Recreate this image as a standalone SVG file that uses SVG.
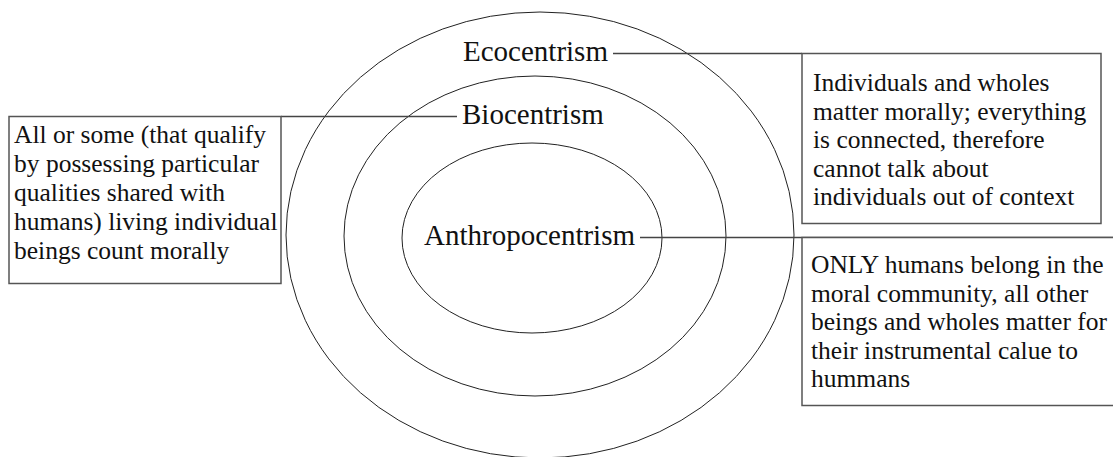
<svg xmlns="http://www.w3.org/2000/svg" width="1113" height="457" viewBox="0 0 1113 457">
<style>
.ring{fill:none;stroke:#222;stroke-width:1}
.box{fill:#fff;stroke:#555;stroke-width:1.5}
.conn{fill:none;stroke:#444;stroke-width:1.3}
.lbl{font-family:"Liberation Serif","Times New Roman",serif;font-size:29px;fill:#111}
text{font-family:"Liberation Serif","Times New Roman","DejaVu Serif",serif}
.desc{font-size:25.5px;fill:#111}
</style>
<rect width="1113" height="457" fill="#fff"/>
<g id="rings">
<ellipse id="ring-eco" class="ring" cx="540" cy="235" rx="254" ry="223"/>
<ellipse id="ring-bio" class="ring" cx="535" cy="236" rx="191" ry="160"/>
<ellipse id="ring-anthro" class="ring" cx="532" cy="238" rx="130" ry="95"/>
</g>
<g id="connectors">
<line class="conn" x1="613" y1="53.5" x2="802" y2="53.5"/>
<line class="conn" x1="281" y1="116.5" x2="457" y2="116.5"/>
<line class="conn" x1="640" y1="237.5" x2="1113" y2="237.5"/>
</g>
<g id="label-eco"><text class="lbl" x="463" y="61">Ecocentrism</text></g>
<g id="label-bio"><text class="lbl" x="462" y="124">Biocentrism</text></g>
<g id="label-anthro"><text class="lbl" x="424" y="245">Anthropocentrism</text></g>
<g id="box-bio" font-family="Liberation Serif, Times New Roman, serif">
<rect class="box" x="9" y="116.5" width="272" height="167"/>
<text class="desc" style="font-family:'Liberation Serif',serif" x="14" y="143">All or some (that qualify</text>
<text class="desc" style="font-family:'Liberation Serif',serif" x="14" y="172">by possessing particular</text>
<text class="desc" style="font-family:'Liberation Serif',serif" x="14" y="201">qualities shared with</text>
<text class="desc" style="font-family:'Liberation Serif',serif" x="14" y="230">humans) living individual</text>
<text class="desc" style="font-family:'Liberation Serif',serif" x="14" y="259">beings count morally</text>
</g>
<g id="box-eco" font-family="Liberation Serif, Times New Roman, serif">
<rect class="box" x="802" y="53.5" width="299" height="170"/>
<text class="desc" style="font-family:'Liberation Serif',serif" x="813" y="91">Individuals and wholes</text>
<text class="desc" style="font-family:'Liberation Serif',serif" x="813" y="119.5">matter morally; everything</text>
<text class="desc" style="font-family:'Liberation Serif',serif" x="813" y="148">is connected, therefore</text>
<text class="desc" style="font-family:'Liberation Serif',serif" x="813" y="176.5">cannot talk about</text>
<text class="desc" style="font-family:'Liberation Serif',serif" x="813" y="205">individuals out of context</text>
</g>
<g id="box-anthro" font-family="Liberation Serif, Times New Roman, serif">
<rect class="box" x="802" y="237.5" width="330" height="168"/>
<text class="desc" style="font-family:'Liberation Serif',serif" x="811" y="273">ONLY humans belong in the</text>
<text class="desc" style="font-family:'Liberation Serif',serif" x="811" y="301.5">moral community, all other</text>
<text class="desc" style="font-family:'Liberation Serif',serif" x="811" y="330">beings and wholes matter for</text>
<text class="desc" style="font-family:'Liberation Serif',serif" x="811" y="358.5">their instrumental calue to</text>
<text class="desc" style="font-family:'Liberation Serif',serif" x="811" y="387">hummans</text>
</g>
</svg>
